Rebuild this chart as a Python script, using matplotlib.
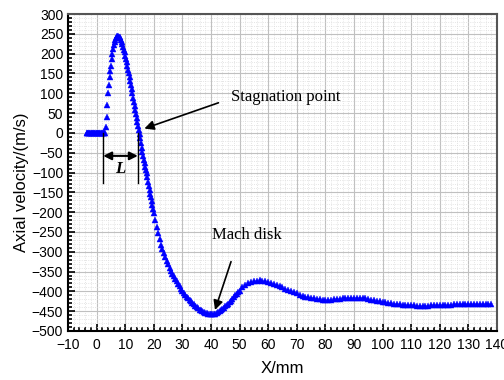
import numpy as np
import matplotlib.pyplot as plt
from matplotlib.ticker import MultipleLocator

# flat part before the nozzle exit (mm)
x_flat = np.arange(-3.5, 3.0, 0.25)
v_flat = [0] * len(x_flat)

# steep jet core, sampled every 0.25 mm
x_core = np.arange(3.0, 20.01, 0.25)
v_core = [0, 15, 40, 70, 100, 122, 140, 156, 170, 186, 200, 212, 222,
          229, 235, 239, 242, 244, 244, 243, 242, 239, 235, 230, 224,
          217, 210, 203, 195, 187, 178, 169, 160, 150, 140, 130, 120,
          110, 100, 89, 78, 68, 58, 48, 38, 28, 18, 8, -2, -14, -25,
          -37, -48, -58, -68, -77, -85, -93, -102, -112, -123, -133,
          -143, -153, -163, -173, -183, -193, -202]

x_mid = np.arange(20.5, 50.01, 0.5)
v_mid = [-220, -237, -253, -268, -282, -294, -304, -314, -323,
         -332, -340, -348, -355, -362, -368, -375, -381, -387, -393,
         -398, -403, -408, -413, -417, -421, -425, -429, -433, -436,
         -440, -443, -446, -448, -450, -452, -454, -455, -456, -457,
         -457, -457, -457, -456, -455, -453, -450, -447, -444, -441,
         -438, -434, -431, -427, -424, -420, -415, -410, -406, -402, -398]

x_far = np.arange(51, 139, 1)
v_far = [-390, -384, -379, -376, -374, -373, -372, -373, -374, -376,
         -378, -381, -384, -387, -390, -393, -396, -399, -402, -405,
         -408, -411, -413, -415, -417, -418, -419, -420, -421, -421,
         -421, -421, -420, -420, -419, -418, -418, -417, -417, -416,
         -416, -417, -417, -418, -419, -421, -422, -424, -425, -427,
         -428, -429, -430, -431, -432, -433, -434, -434, -435, -435,
         -435, -436, -436, -436, -436, -436, -435, -435, -435, -435,
         -434, -434, -434, -434, -433, -433, -433, -433, -433, -433,
         -432, -432, -432, -432, -432, -432, -432, -432]

x = np.concatenate([x_flat, x_core, x_mid, x_far])
v = np.concatenate([v_flat, v_core, v_mid, v_far])

fig = plt.figure(figsize=(5.04, 3.8), dpi=100)
ax = fig.add_axes([0.135, 0.129, 0.851, 0.834])

ax.plot(x, v, linestyle='none', marker='^', markersize=4,
        color='#0000ff', markeredgewidth=0.3, zorder=3)

ax.set_xlim(-10, 140)
ax.set_ylim(-500, 300)
ax.xaxis.set_major_locator(MultipleLocator(10))
ax.xaxis.set_minor_locator(MultipleLocator(2))
ax.yaxis.set_major_locator(MultipleLocator(50))
ax.yaxis.set_minor_locator(MultipleLocator(10))

ax.grid(which='major', color='#c0c0c0', linewidth=0.8, zorder=0)
ax.grid(which='minor', color='#dcdcdc', linewidth=0.6, linestyle=':', zorder=0)
ax.set_axisbelow(True)

ax.tick_params(which='both', direction='in', top=False, right=False,
               labelsize=10, width=1.2)
ax.tick_params(which='major', length=5)
ax.tick_params(which='minor', length=3)
ax.tick_params(axis='x', pad=5)
for lab in ax.get_xticklabels() + ax.get_yticklabels():
    lab.set_family('Liberation Sans')

for side in ['left', 'bottom']:
    ax.spines[side].set_linewidth(1.5)
    ax.spines[side].set_color('black')
for side in ['top', 'right']:
    ax.spines[side].set_linewidth(1.5)
    ax.spines[side].set_color('#555555')

ax.set_xlabel('X/mm', fontsize=12, family='Liberation Sans')
ax.xaxis.set_label_coords(0.5, -0.095)
ax.set_ylabel('Axial velocity/(m/s)', fontsize=12, family='Liberation Sans')
ax.yaxis.set_label_coords(-0.09, 0.47)

arrow = dict(arrowstyle='-|>', mutation_scale=14, lw=1.2, color='black',
             shrinkA=0, shrinkB=0)
ax.text(46.9, 90, 'Stagnation point', fontsize=12,
        family='Liberation Serif', va='center')
ax.annotate('', xy=(16.7, 11), xytext=(42.6, 76), arrowprops=arrow)

ax.text(40.2, -258, 'Mach disk', fontsize=12, family='Liberation Serif',
        va='center')
ax.annotate('', xy=(41.4, -447), xytext=(47, -325), arrowprops=arrow)

# length L between nozzle exit and stagnation point
ax.plot([2.3, 2.3], [0, -127], color='black', lw=1.0, zorder=4)
ax.plot([14.4, 14.4], [0, -127], color='black', lw=1.0, zorder=4)
ax.annotate('', xy=(2.3, -58), xytext=(14.4, -58),
            arrowprops=dict(arrowstyle='<|-|>', mutation_scale=12, lw=1.5,
                            color='black', shrinkA=0, shrinkB=0))
ax.text(8.3, -90, 'L', fontsize=12, family='Liberation Serif',
        style='italic', weight='bold', ha='center', va='center')

fig.savefig('out.png', dpi=100)
